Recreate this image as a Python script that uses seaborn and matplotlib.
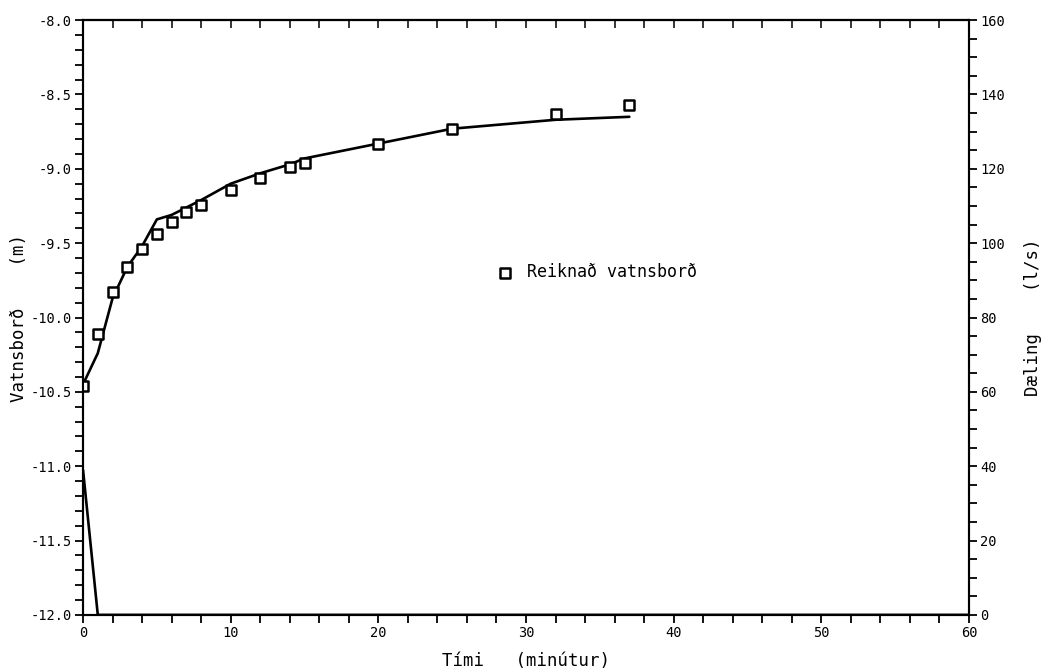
import matplotlib
matplotlib.use("Agg")
import matplotlib.pyplot as plt
from matplotlib.ticker import MultipleLocator, FormatStrFormatter
import seaborn as sns
import pandas as pd

# Measured water level (line)
t_measured = [0, 1, 2, 3, 4, 5, 6, 7, 8, 10, 12, 14, 15, 20, 25, 32, 37]
level_measured = [-10.45, -10.24, -9.87, -9.66, -9.52, -9.34, -9.31, -9.26, -9.21,
                  -9.10, -9.03, -8.97, -8.93, -8.83, -8.73, -8.67, -8.65]

# Calculated water level (square markers)
t_calc = [0, 1, 2, 3, 4, 5, 6, 7, 8, 10, 12, 14, 15, 20, 25, 32, 37]
level_calc = [-10.46, -10.11, -9.83, -9.66, -9.54, -9.44, -9.36, -9.29, -9.24,
              -9.14, -9.06, -8.99, -8.96, -8.83, -8.73, -8.63, -8.57]

# Pumping rate (right axis)
t_pump = [0, 1, 60]
q_pump = [39, 0, 0]

legend_label = "Reiknað vatnsborð"
xlabel = "Tími   (minútur)"
ylabel_left = "Vatnsborð    (m)"
ylabel_right = "Dæling    (l/s)"

sns.set_theme(style="ticks")
plt.rcParams['font.family'] = ['DejaVu Sans Mono', 'DejaVu Sans']
plt.rcParams['text.color'] = 'black'
plt.rcParams['axes.labelcolor'] = 'black'

fig = plt.figure(figsize=(10.43, 6.72), dpi=100)
ax = fig.add_axes([0.0796, 0.085, 0.8494, 0.885])

df_m = pd.DataFrame({"t": t_measured, "h": level_measured})
df_c = pd.DataFrame({"t": t_calc, "h": level_calc})
df_q = pd.DataFrame({"t": t_pump, "q": q_pump})

sns.lineplot(data=df_m, x="t", y="h", ax=ax, color="black", lw=1.9, sort=False)
sns.scatterplot(data=df_c, x="t", y="h", ax=ax, marker="s", s=42, facecolor="white",
                edgecolor="black", linewidth=1.8, zorder=5, label=legend_label)

ax.set_xlim(0, 60)
ax.set_ylim(-12.0, -8.0)
ax.xaxis.set_major_locator(MultipleLocator(10))
ax.xaxis.set_minor_locator(MultipleLocator(2))
ax.yaxis.set_major_locator(MultipleLocator(0.5))
ax.yaxis.set_minor_locator(MultipleLocator(0.1))
ax.yaxis.set_major_formatter(FormatStrFormatter("%.1f"))
ax.tick_params(axis='both', which='both', direction='out', length=6, width=1.3,
               labelsize=9.8, pad=2, colors='black')
ax.set_xlabel(xlabel, fontsize=12.5, labelpad=9, color='black')
ax.set_ylabel(ylabel_left, fontsize=12.5, labelpad=2, color='black')
for sp in ax.spines.values():
    sp.set_linewidth(1.5)
    sp.set_color('black')
    sp.set_visible(True)

# top ticks inward
top = ax.secondary_xaxis('top')
top.xaxis.set_major_locator(MultipleLocator(2))
top.tick_params(direction='in', length=6, width=1.3, labeltop=False)
top.spines['top'].set_linewidth(1.5)

ax2 = ax.twinx()
sns.lineplot(data=df_q, x="t", y="q", ax=ax2, color="black", lw=1.9, sort=False)
ax2.set_ylim(0, 160)
ax2.set_xlim(0, 60)
ax2.yaxis.set_major_locator(MultipleLocator(20))
ax2.yaxis.set_minor_locator(MultipleLocator(5))
ax2.tick_params(axis='y', which='both', direction='out', length=6, width=1.3,
                labelsize=9.8, pad=2, colors='black')
ax2.set_ylabel(ylabel_right, fontsize=12.5, labelpad=14, color='black')
ax2.set_xlabel("")
for sp in ax2.spines.values():
    sp.set_linewidth(1.5)
    sp.set_color('black')

leg = ax.legend(loc='center left', bbox_to_anchor=(0.45, 0.576), frameon=False,
                fontsize=12, handlelength=1.0, handletextpad=0.8)
for txt in leg.get_texts():
    txt.set_color('black')

fig.savefig("out.png", dpi=100)
